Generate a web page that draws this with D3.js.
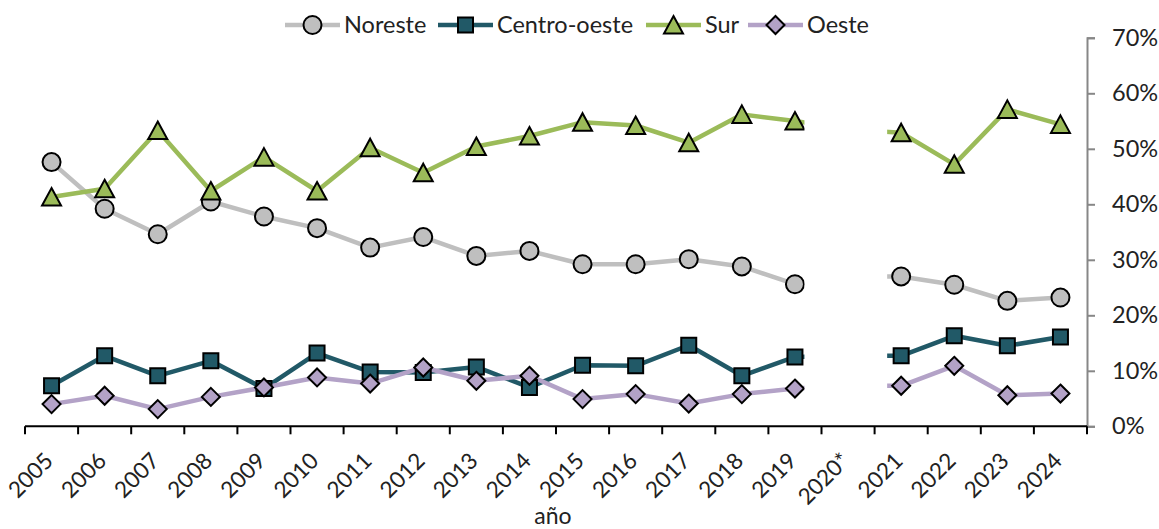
<!DOCTYPE html>
<html>
<head>
<meta charset="utf-8">
<script src="https://cdn.jsdelivr.net/npm/d3@7"></script>
<style>
  body { margin: 0; background: #fff; }
  text { font-family: Lato, "Open Sans", sans-serif; fill: #222; }
</style>
</head>
<body>
<svg id="chart" width="1159" height="529"></svg>
<script>
// categories (2020* has no published value shown; the line passes under a blank band)
var years = ["2005","2006","2007","2008","2009","2010","2011","2012","2013","2014",
             "2015","2016","2017","2018","2019","2020*","2021","2022","2023","2024"];

var noreste = [47.6,39.2,34.6,40.5,37.8,35.7,32.2,34.1,30.7,31.6,29.2,29.2,30.1,28.8,25.6,27.0,27.0,25.5,22.6,23.2];
var centroOeste = [7.3,12.7,9.1,11.8,6.8,13.2,9.8,9.7,10.7,7.0,11.0,10.9,14.6,9.1,12.5,12.7,12.7,16.3,14.5,16.1];
var sur = [41.3,42.8,53.3,42.4,48.5,42.4,50.2,45.7,50.4,52.3,54.8,54.2,51.1,56.2,55.0,53.5,52.9,47.2,57.1,54.4];
var oeste = [4.0,5.5,3.1,5.3,7.0,8.8,7.7,10.6,8.2,9.1,4.9,5.8,4.1,5.8,6.8,7.3,7.3,10.9,5.6,5.9];

var yTicks = [0, 0.1, 0.2, 0.3, 0.4, 0.5, 0.6, 0.7];

var series = [
  {name: "Noreste", values: noreste, color: "#bfbfbf", shape: "circle"},
  {name: "Centro-oeste", values: centroOeste, color: "#215967", shape: "square"},
  {name: "Sur", values: sur, color: "#9bbb59", shape: "triangle"},
  {name: "Oeste", values: oeste, color: "#b3a2c7", shape: "diamond"}
];

var svg = d3.select("#chart");

var x = d3.scaleBand().domain(years).range([25, 1087]);
var y = d3.scaleLinear().domain([0, 0.7]).range([426.3, 37.8]);
var cx = function(d) { return x(d) + x.bandwidth() / 2; };

function shapePath(shape) {
  if (shape == "circle") return "M9,0A9,9 0 1,1 -9,0A9,9 0 1,1 9,0Z";
  if (shape == "square") return "M-7.5,-7.5H7.5V7.5H-7.5Z";
  if (shape == "triangle") return "M0,-9L9.5,8.5L-9.5,8.5Z";
  return "M0,-9L9,0L0,9L-9,0Z";
}

// clip away the 2020 band
var gapL = cx("2019") + 9.5, gapR = cx("2021") - 14;
var defs = svg.append("defs");
var clip = defs.append("clipPath").attr("id", "gap");
clip.append("rect").attr("x", 0).attr("y", 0).attr("width", gapL).attr("height", 529);
clip.append("rect").attr("x", gapR).attr("y", 0).attr("width", 1159 - gapR).attr("height", 529);

// y axis (right)
var yAxis = svg.append("g")
    .attr("transform", "translate(1087,0)")
    .call(d3.axisRight(y).tickValues(yTicks).tickFormat(d3.format(".0%")).tickSize(8).tickPadding(17));
yAxis.select(".domain").attr("stroke", "#878787").attr("stroke-width", 2);
yAxis.selectAll(".tick line").attr("stroke", "#878787").attr("stroke-width", 2);
yAxis.selectAll("text").style("font-size", "23.5px").style("font-family", "Lato, sans-serif").attr("fill", "#222");

// x axis
var xAxis = svg.append("g")
    .attr("transform", "translate(0,426.3)");
xAxis.append("line").attr("x1", 25).attr("x2", 1087).attr("stroke", "#000").attr("stroke-width", 2);
xAxis.selectAll(".xt").data(d3.range(years.length + 1)).enter().append("line")
    .attr("x1", function(i) { return 25 + i * x.step(); })
    .attr("x2", function(i) { return 25 + i * x.step(); })
    .attr("y1", 0).attr("y2", 8)
    .attr("stroke", "#000").attr("stroke-width", 2);
xAxis.selectAll(".xl").data(years).enter().append("text")
    .attr("transform", function(d) { return "translate(" + (cx(d) + 3) + ",36) rotate(-45)"; })
    .attr("text-anchor", "end")
    .style("font-size", "22.5px")
    .text(function(d) { return d; });

svg.append("text").attr("x", 553).attr("y", 524).attr("text-anchor", "middle")
    .style("font-size", "23px").text("año");

// lines first, then markers
var plot = svg.append("g").attr("clip-path", "url(#gap)");
var line = d3.line().x(function(d) { return cx(d.year); }).y(function(d) { return y(d.v / 100); });

series.forEach(function(s) {
  var pts = years.map(function(yr, i) { return {year: yr, v: s.values[i]}; });
  plot.append("path").datum(pts)
      .attr("d", line)
      .attr("fill", "none")
      .attr("stroke", s.color)
      .attr("stroke-width", 4.5)
      .attr("stroke-linejoin", "round");
});

series.forEach(function(s) {
  plot.selectAll(null).data(years).enter().append("path")
      .attr("transform", function(d, i) { return "translate(" + cx(d) + "," + y(s.values[i] / 100) + ")"; })
      .attr("d", shapePath(s.shape))
      .attr("fill", s.color)
      .attr("stroke", "#000")
      .attr("stroke-width", 2);
});

// legend
var legendX = [285, 438, 646, 748];
var legend = svg.append("g");
series.forEach(function(s, i) {
  var g = legend.append("g").attr("transform", "translate(" + legendX[i] + ",25)");
  g.append("line").attr("x1", 0).attr("x2", 55).attr("stroke", s.color).attr("stroke-width", 4.5);
  g.append("path").attr("transform", "translate(27.5,0)").attr("d", shapePath(s.shape))
      .attr("fill", s.color).attr("stroke", "#000").attr("stroke-width", 2);
  g.append("text").attr("x", 59).attr("y", 8).style("font-size", "23.5px").text(s.name);
});
</script>
</body>
</html>
